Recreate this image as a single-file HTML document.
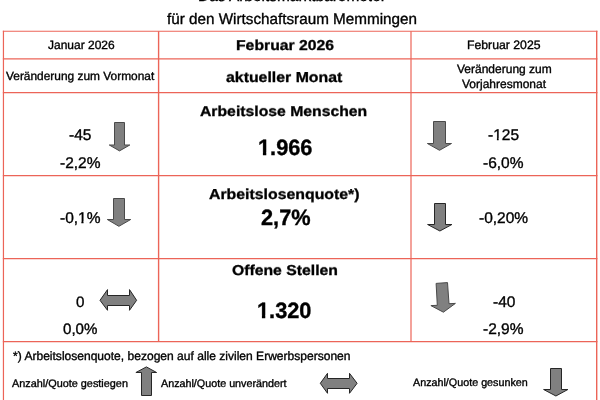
<!DOCTYPE html>
<html><head><meta charset="utf-8"><title>Das Arbeitsmarktbarometer</title>
<style>
html,body{margin:0;padding:0;background:#fff;}
body{width:600px;height:400px;position:relative;overflow:hidden;font-family:"Liberation Sans",Arial,sans-serif;color:#000;}
.t{position:absolute;white-space:nowrap;line-height:1;will-change:transform;text-rendering:geometricPrecision;-webkit-text-stroke:0.35px #000;}
.b{font-weight:bold;}
svg{position:absolute;left:0;top:0;}
</style></head><body>

<svg width="600" height="400" viewBox="0 0 600 400">
<g stroke="#ec6458" stroke-width="1.2" fill="none">
<line x1="3.45" y1="30.75" x2="3.45" y2="400" stroke-width="1.2"/>
<line x1="158.6" y1="31.25" x2="158.6" y2="341.55" stroke-width="1.4"/>
<line x1="411.0" y1="31.25" x2="411.0" y2="341.55" stroke-width="1.2"/>
<line x1="596.7" y1="30.65" x2="596.7" y2="400" stroke-width="1.4"/>
<line x1="2.85" y1="31.25" x2="597.4" y2="31.25"/>
<line x1="2.85" y1="58.85" x2="597.4" y2="58.85"/>
<line x1="2.85" y1="92.55" x2="597.4" y2="92.55"/>
<line x1="2.85" y1="175.55" x2="597.4" y2="175.55"/>
<line x1="2.85" y1="258.55" x2="597.4" y2="258.55"/>
<line x1="2.85" y1="341.55" x2="597.4" y2="341.55"/>
</g>
<g fill="#808080" stroke-width="1" stroke-linejoin="miter">
<polygon stroke="#4a4a4a" points="114.5,122.5 124.5,122.5 124.5,145.0 129.8,145.0 119.5,150.9 109.3,145.0 114.5,145.0"/>
<polygon stroke="#4a4a4a" points="113.5,198.5 124.5,198.5 124.5,219.5 130.7,219.5 118.9,226.3 107.3,219.5 113.5,219.5"/>
<polygon stroke="#4a4a4a" points="433.5,121.5 445.5,121.5 445.5,143.5 451.5,143.5 439.5,150.3 427.4,143.5 433.5,143.5"/>
<polygon stroke="#262626" points="434.5,203.5 445.5,203.5 445.5,224.5 451.9,224.5 439.9,231.0 427.6,224.5 434.5,224.5"/>
<polygon stroke="#4a4a4a" points="436.1,283.4 447.5,282.6 449,303.7 455.4,303.4 443.4,312.2 430.9,305.6 437.3,305.3"/>
<polygon stroke="#262626" points="550.5,368.5 561.5,368.5 561.5,389.5 567.9,389.5 555.9,396.0 543.6,389.5 550.5,389.5"/>
<polygon stroke="#262626" points="146.4,366.9 156.6,372.5 151.5,372.5 151.5,395.5 141.5,395.5 141.5,372.5 135.9,372.5"/>
<polygon stroke="#262626" points="100,300.3 107.5,289.6 107.5,295.5 129.5,295.5 129.5,289.6 136.6,300.3 129.5,310.3 129.5,305.5 107.5,305.5 107.5,310.3"/>
<polygon stroke="#262626" points="320.3,383.3 327.5,373.3 327.5,378.5 349.5,378.5 349.5,373.3 357.1,383.3 349.5,393.3 349.5,388.5 327.5,388.5 327.5,393.3"/>
</g></svg>
<div class="t" style="left:197.50px;top:-11.20px;font-size:15.45px;">Das Arbeitsmarktbarometer</div>
<div class="t" style="left:167.39px;top:11.90px;font-size:15.25px;">für den Wirtschaftsraum Memmingen</div>
<div class="t" style="left:48.10px;top:39.00px;font-size:12px;">Januar 2026</div>
<div class="t b" style="left:236.13px;top:38.00px;font-size:15.75px;transform:scaleY(0.91);transform-origin:0 12.00px;">Februar 2026</div>
<div class="t" style="left:467.21px;top:39.20px;font-size:12.25px;">Februar 2025</div>
<div class="t" style="left:6.11px;top:71.00px;font-size:11.91px;">Veränderung zum Vormonat</div>
<div class="t b" style="left:225.57px;top:69.50px;font-size:15.87px;transform:scaleY(0.91);transform-origin:0 12.00px;">aktueller Monat</div>
<div class="t" style="left:457.06px;top:62.70px;font-size:12px;">Veränderung zum</div>
<div class="t" style="left:462.11px;top:77.90px;font-size:12px;">Vorjahresmonat</div>
<div class="t b" style="left:200.21px;top:103.80px;font-size:15.75px;transform:scaleY(0.91);transform-origin:0 12.00px;">Arbeitslose Menschen</div>
<div class="t b" style="left:258.36px;top:136.60px;font-size:21.75px;transform:scaleY(1.02);transform-origin:0 18.00px;">1.966</div>
<div class="t" style="left:68.69px;top:127.90px;font-size:15.5px;">-45</div>
<div class="t" style="left:60.08px;top:156.20px;font-size:15.5px;">-2,2%</div>
<div class="t" style="left:488.42px;top:127.75px;font-size:15.5px;">-125</div>
<div class="t" style="left:482.76px;top:156.10px;font-size:15.5px;">-6,0%</div>
<div class="t" style="left:60.21px;top:210.70px;font-size:15.5px;">-0,1%</div>
<div class="t b" style="left:209.46px;top:187.10px;font-size:15.85px;transform:scaleY(0.91);transform-origin:0 12.00px;">Arbeitslosenquote*)</div>
<div class="t b" style="left:261.42px;top:207.30px;font-size:21.75px;transform:scaleY(1.02);transform-origin:0 18.00px;">2,7%</div>
<div class="t" style="left:478.63px;top:211.00px;font-size:15.5px;">-0,20%</div>
<div class="t" style="left:76.38px;top:294.60px;font-size:15.2px;">0</div>
<div class="t" style="left:63.38px;top:322.10px;font-size:15.1px;">0,0%</div>
<div class="t b" style="left:232.47px;top:263.00px;font-size:15.75px;transform:scaleY(0.91);transform-origin:0 12.00px;">Offene Stellen</div>
<div class="t b" style="left:257.41px;top:300.30px;font-size:21.75px;transform:scaleY(1.02);transform-origin:0 18.00px;">1.320</div>
<div class="t" style="left:493.08px;top:294.60px;font-size:15.5px;">-40</div>
<div class="t" style="left:482.98px;top:322.10px;font-size:15.5px;">-2,9%</div>
<div class="t" style="left:13.21px;top:350.30px;font-size:12.06px;">*) Arbeitslosenquote, bezogen auf alle zivilen Erwerbspersonen</div>
<div class="t" style="left:12.22px;top:379.00px;font-size:10.86px;">Anzahl/Quote gestiegen</div>
<div class="t" style="left:161.12px;top:379.40px;font-size:10.75px;">Anzahl/Quote unverändert</div>
<div class="t" style="left:413.12px;top:378.10px;font-size:10.75px;">Anzahl/Quote gesunken</div>
<svg width="600" height="400" viewBox="0 0 600 400" style="position:absolute;left:0;top:0"><g fill="#fff"><rect x="258.5" y="152" width="4.4" height="4"/><rect x="266.28" y="152" width="3.72" height="4"/><rect x="257.5" y="315" width="4.4" height="4"/><rect x="265.28" y="315" width="3.72" height="4"/><rect x="493.5" y="138" width="3.4" height="3"/><rect x="498.67" y="138" width="3.23" height="3"/><rect x="78.5" y="221" width="2.86" height="3"/><rect x="83.51" y="221" width="2.69" height="3"/></g></svg>
</body></html>
